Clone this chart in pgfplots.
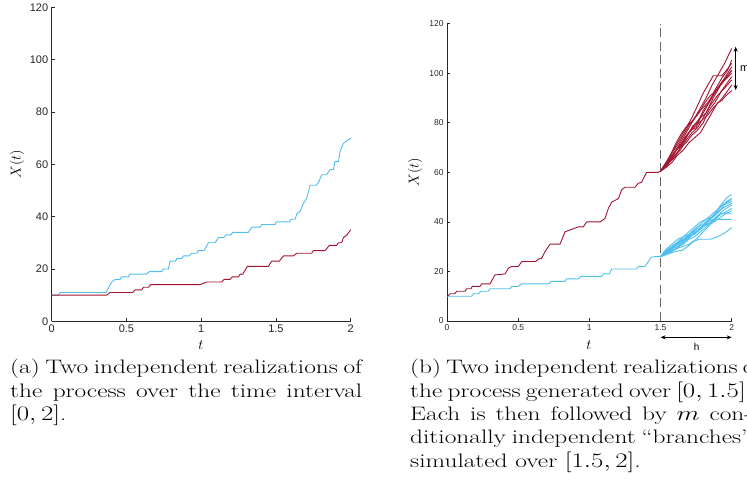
\documentclass[border=0pt]{standalone}
\usepackage{pgfplots}
\pgfplotsset{compat=1.18}
\usepackage{fontspec}
\newfontfamily\tickfont{Liberation Sans}
\usetikzlibrary{arrows.meta}
\definecolor{mred}{rgb}{0.635,0.078,0.184}
\definecolor{mblue}{rgb}{0.301,0.745,0.933}
\definecolor{axgray}{rgb}{0.15,0.15,0.15}
\pgfplotsset{mystyle/.style={
  scale only axis, axis x line*=bottom, axis y line*=left,
  axis line style={axgray, line width=0.6bp, -},
  tick align=inside, major tick length=3bp, tick style={axgray, line width=0.6bp},
  xmin=0,xmax=2,ymin=0,ymax=120,
  xtick={0,0.5,1,1.5,2}, ytick={0,20,...,120},
  /pgf/number format/assume math mode=true,
  ticklabel style={text=axgray},
  clip=false,
  every axis plot/.append style={line width=0.9bp, no markers, line join=round},
}}
\newcommand{\capfont}{\fontsize{19.5bp}{22bp}\selectfont}
\newcommand{\jl}[1]{\scalebox{1.3}[1]{\makebox[270.8bp][s]{#1}}}
\newcommand{\jb}[1]{\scalebox{1.3}[1]{\makebox[263bp][s]{#1}}}
\newcommand{\nl}[1]{\scalebox{1.3}[1]{#1}}
\begin{document}
\begin{tikzpicture}
\path[use as bounding box] (0bp,0bp) rectangle (747bp,489bp);
% ---------- left panel ----------
\begin{axis}[mystyle, at={(51.7bp,167.7bp)}, anchor=south west,
  width=299bp, height=314bp,
  ticklabel style={font=\fontsize{11bp}{13bp}\tickfont},
  xlabel={$t$}, ylabel={$X(t)$},
  xlabel style={font=\fontsize{14bp}{16bp}\selectfont, at={(axis description cs:0.4993,-0.0755)}, anchor=center},
  ylabel style={font=\fontsize{14bp}{16bp}\selectfont, at={(axis description cs:-0.116,0.5)}, anchor=center},
]
\addplot[mblue] coordinates {(0,10)(0.045,10)(0.056,11)(0.363,11)(0.401,15)(0.424,16)(0.457,16)(0.468,17)(0.513,17)(0.524,18)(0.635,18)(0.653,19)(0.736,19)(0.747,20)(0.780,20)(0.792,23)(0.829,23)(0.836,24)(0.870,24)(0.881,25)(0.921,25)(0.936,26)(0.970,26)(0.981,27)(1.019,27)(1.048,30)(1.093,30)(1.115,32)(1.148,32)(1.166,33)(1.200,33)(1.211,34)(1.316,34)(1.338,36)(1.394,36)(1.405,37)(1.494,37)(1.501,38)(1.590,38)(1.601,39)(1.628,39)(1.639,41)(1.661,42)(1.683,45)(1.706,47)(1.728,52)(1.768,52)(1.784,53)(1.806,56)(1.839,56)(1.862,58)(1.884,58)(1.895,61)(1.918,61)(1.929,65)(1.951,68)(1.975,69)(2,70)};
\addplot[mred] coordinates {(0,10)(0.368,10)(0.39,11)(0.542,11)(0.557,12)(0.602,12)(0.613,13)(0.647,13)(0.662,14)(0.992,14)(1.037,15)(1.137,15)(1.153,16)(1.193,16)(1.208,17)(1.249,17)(1.26,18)(1.278,18)(1.309,21)(1.449,21)(1.472,23)(1.523,23)(1.55,25)(1.617,25)(1.639,26)(1.739,26)(1.75,27)(1.828,27)(1.857,29)(1.906,29)(1.918,30)(1.94,30)(1.951,32)(1.975,33)(2,35)};
\end{axis}
% ---------- right panel ----------
\begin{axis}[mystyle, at={(447bp,168bp)}, anchor=south west,
  width=284.7bp, height=297.3bp,
  ticklabel style={font=\fontsize{8.5bp}{10bp}\tickfont},
  xlabel={$t$}, ylabel={$X(t)$},
  xlabel style={font=\fontsize{14bp}{16bp}\selectfont, at={(axis description cs:0.4988,-0.0807)}, anchor=center},
  ylabel style={font=\fontsize{14bp}{16bp}\selectfont, at={(axis description cs:-0.1124,0.5)}, anchor=center},
]
\addplot[gray!80!black, line width=1.7bp, dash pattern=on 9bp off 4.5bp] coordinates {(1.5,0)(1.5,120)};
% base paths
\addplot[mred] coordinates {(0,10)(0.01,10.2)(0.021,11)(0.056,11)(0.068,12)(0.127,12)(0.138,13)(0.169,13)(0.178,14)(0.232,14)(0.244,15)(0.302,15)(0.337,18.6)(0.408,19)(0.431,21.3)(0.454,22)(0.501,22)(0.525,24)(0.623,24)(0.642,25)(0.665,25.3)(0.688,28)(0.724,31)(0.794,31)(0.829,36)(0.876,37)(0.923,38)(0.958,38)(0.981,40)(1.075,40)(1.11,41.4)(1.134,45.5)(1.157,48)(1.19,49)(1.205,49.5)(1.227,53)(1.251,54)(1.321,54)(1.344,55.6)(1.367,56)(1.402,60)(1.484,60)(1.5,60.5)};
\addplot[mblue] coordinates {(0,10)(0.173,10)(0.185,11)(0.22,11)(0.239,12)(0.29,12)(0.302,13)(0.443,13)(0.454,14)(0.501,14)(0.525,15)(0.716,15)(0.731,16)(0.829,16)(0.841,17)(0.923,17)(0.941,18)(1.087,18)(1.098,19)(1.14,19)(1.157,21)(1.332,21)(1.344,22)(1.39,22)(1.414,24)(1.433,25.7)(1.461,26)(1.5,26)};
% red branches
\addplot[mred] coordinates {(1.5,60.5)(1.53,63)(1.57,66)(1.6,68)(1.65,73)(1.7,78)(1.74,82)(1.78,86)(1.82,90)(1.86,95)(1.9,99)(1.95,104)(2,110)};
\addplot[mred] coordinates {(1.5,60.5)(1.55,65)(1.6,70)(1.64,74)(1.68,78)(1.72,82)(1.76,87)(1.8,92)(1.84,96)(1.87,99)(1.93,99)(1.96,101)(2,104)};
\addplot[mred] coordinates {(1.5,60.5)(1.54,63)(1.58,67)(1.62,70)(1.66,72)(1.7,76)(1.75,80)(1.79,83)(1.83,87)(1.88,93)(1.93,98)(1.97,101)(2,105.3)};
\addplot[mred] coordinates {(1.5,60.5)(1.53,62)(1.57,65)(1.61,69)(1.65,71)(1.69,75)(1.73,79)(1.76,80)(1.8,85)(1.85,89)(1.9,94)(1.95,98)(2,102.6)};
\addplot[mred] coordinates {(1.5,60.5)(1.55,64)(1.59,66)(1.63,69)(1.67,74)(1.71,77)(1.75,78)(1.78,82)(1.82,84)(1.87,90)(1.92,95)(1.96,98)(2,101.3)};
\addplot[mred] coordinates {(1.5,60.5)(1.54,64)(1.58,68)(1.62,71)(1.66,75)(1.7,79)(1.74,82)(1.78,85)(1.83,88)(1.88,92)(1.93,96)(2,100)};
\addplot[mred] coordinates {(1.5,60.5)(1.53,62)(1.56,64)(1.6,66)(1.64,70)(1.68,72)(1.72,75)(1.76,77)(1.8,80)(1.84,85)(1.88,88)(1.93,93)(2,98.6)};
\addplot[mred] coordinates {(1.5,60.5)(1.55,63)(1.6,67)(1.64,69)(1.68,73)(1.72,76)(1.76,78)(1.8,82)(1.85,87)(1.9,91)(1.95,94)(2,97.3)};
\addplot[mred] coordinates {(1.5,60.5)(1.52,62)(1.56,65)(1.6,68)(1.65,72)(1.7,76)(1.75,79)(1.79,81)(1.83,83)(1.87,86)(1.92,89)(1.96,92)(2,95.3)};
\addplot[mred] coordinates {(1.5,60.5)(1.54,62)(1.58,64)(1.62,67)(1.66,69)(1.7,72)(1.74,74)(1.78,76)(1.82,80)(1.86,84)(1.9,88)(1.93,89)(1.96,91)(2,93)};
\addplot[mred] coordinates {(1.5,60.5)(1.53,63)(1.57,67)(1.61,72)(1.65,76)(1.69,79)(1.73,81)(1.77,84)(1.81,88)(1.85,91)(1.89,93)(1.94,97)(2,101)};
% blue branches
\addplot[mblue] coordinates {(1.5,26)(1.54,28)(1.58,30)(1.62,32)(1.66,34)(1.7,35)(1.74,37)(1.78,39)(1.82,41)(1.86,43)(1.9,45)(1.94,48)(1.97,50)(2,51)};
\addplot[mblue] coordinates {(1.5,26)(1.55,29)(1.6,31)(1.64,32)(1.68,33)(1.72,36)(1.76,38)(1.8,39)(1.84,41)(1.88,43)(1.92,46)(1.96,48)(2,49.5)};
\addplot[mblue] coordinates {(1.5,26)(1.53,27)(1.57,29)(1.61,31)(1.65,33)(1.7,34)(1.74,35)(1.78,37)(1.82,40)(1.87,42)(1.91,44)(1.95,47)(2,48.2)};
\addplot[mblue] coordinates {(1.5,26)(1.54,27)(1.58,28)(1.62,30)(1.66,32)(1.7,34)(1.75,36)(1.79,38)(1.83,40)(1.87,41)(1.91,43)(1.95,45)(2,46.8)};
\addplot[mblue] coordinates {(1.5,26)(1.55,28)(1.59,30)(1.63,31)(1.67,33)(1.71,35)(1.75,37)(1.79,38)(1.83,39)(1.88,41)(1.92,43)(1.96,44)(2,45.5)};
\addplot[mblue] coordinates {(1.5,26)(1.53,28)(1.57,29)(1.62,30)(1.66,31)(1.7,33)(1.74,34)(1.78,36)(1.82,38)(1.86,40)(1.9,42)(1.93,43.5)(2,43.5)};
\addplot[mblue] coordinates {(1.5,26)(1.54,27)(1.58,29)(1.62,31)(1.66,33)(1.7,35)(1.74,36)(1.78,37)(1.82,39)(1.86,40)(1.9,41)(2,41)};
\addplot[mblue] coordinates {(1.5,26)(1.55,27)(1.6,28)(1.65,28.5)(1.69,30)(1.73,32)(1.77,33)(1.85,33)(1.9,34)(1.95,35.5)(2,37.7)};
\addplot[mblue] coordinates {(1.5,26)(1.54,29)(1.58,31)(1.62,33)(1.66,34)(1.7,36)(1.74,38)(1.78,40)(1.82,41)(1.86,42)(1.9,44)(1.95,46)(2,47.5)};
\addplot[mblue] coordinates {(1.5,26)(1.53,27)(1.57,28)(1.61,29)(1.65,31)(1.69,33)(1.73,35)(1.77,37)(1.81,39)(1.85,41)(1.89,44)(1.94,47)(2,49)};
\addplot[mblue] coordinates {(1.5,26)(1.55,28)(1.6,29)(1.65,30)(1.7,31)(1.75,33)(1.8,36)(1.85,39)(1.9,41)(1.95,43)(2,44.5)};
% annotations
\draw[{Stealth[length=5bp,width=4bp]}-{Stealth[length=5bp,width=4bp]}, line width=0.8bp, black] (axis cs:1.5,-6.6) -- (axis cs:2,-6.6);
\node[font=\fontsize{10bp}{12bp}\tickfont, text=black] at (axis cs:1.754,-10.6) {h};
\draw[{Stealth[length=5bp,width=4bp]}-{Stealth[length=5bp,width=4bp]}, line width=0.8bp, black] (axis cs:2.028,110.7) -- (axis cs:2.028,93.2);
\node[font=\fontsize{11bp}{13bp}\tickfont, text=black, anchor=west, inner sep=0] at (axis cs:2.058,102) {m};
\end{axis}
% ---------- captions ----------
\begin{scope}[every node/.style={anchor=base west, inner sep=0, font=\capfont}]
\node at (10bp,115bp) {\jl{(a) Two independent realizations of}};
\node at (10bp,91.7bp) {\jl{the process over the time interval}};
\node at (10bp,68.4bp) {\nl{$[0,2]$.}};
\node at (410bp,115bp) {\jb{(b) Two independent realizations of}};
\node at (410bp,91.7bp) {\jb{the process generated over $[0,1.5]$.}};
\node at (410bp,68.4bp) {\jb{Each is then followed by $m$ con-}};
\node at (410bp,45.1bp) {\jb{ditionally independent ``branches''}};
\node at (410bp,21.8bp) {\nl{simulated over $[1.5,2]$.}};
\end{scope}
\end{tikzpicture}
\end{document}
